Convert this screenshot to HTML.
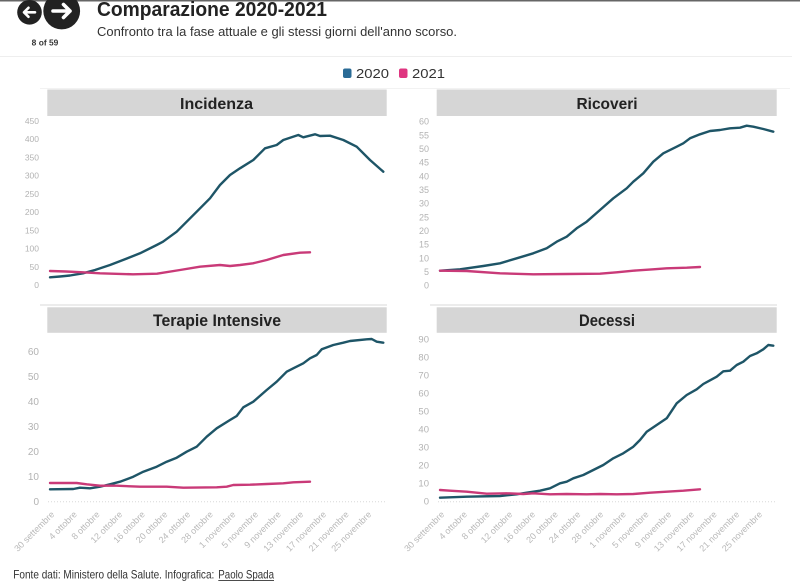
<!DOCTYPE html>
<html><head><meta charset="utf-8"><style>
html,body{margin:0;padding:0;background:#fff;}
svg{display:block;font-family:"Liberation Sans",sans-serif;}
</style></head><body>
<svg width="800" height="588" viewBox="0 0 800 588" xmlns="http://www.w3.org/2000/svg">
<rect width="800" height="588" fill="#fff"/>
<line x1="0" y1="0.7" x2="800" y2="0.7" stroke="#666" stroke-width="1.5"/>
<!-- nav -->
<circle cx="29.5" cy="12.3" r="12.3" fill="#222"/>
<path d="M35 12.3 H24 M28.5 7.8 L24 12.3 L28.5 16.8" stroke="#fff" stroke-width="2.6" fill="none" stroke-linecap="round" stroke-linejoin="round"/>
<circle cx="61.7" cy="11" r="18.4" fill="#222"/>
<path d="M53 11 H70 M63.5 4.5 L70 11 L63.5 17.5" stroke="#fff" stroke-width="3.6" fill="none" stroke-linecap="round" stroke-linejoin="round"/>
<text x="31.7" y="45.7" font-size="8" font-weight="bold" fill="#333" textLength="26.6" lengthAdjust="spacingAndGlyphs">8 of 59</text>
<text x="97" y="16" font-size="20" font-weight="bold" fill="#222" textLength="230" lengthAdjust="spacingAndGlyphs">Comparazione 2020-2021</text>
<text x="97" y="36" font-size="13" fill="#333" textLength="360" lengthAdjust="spacingAndGlyphs">Confronto tra la fase attuale e gli stessi giorni dell'anno scorso.</text>
<line x1="0" y1="56.5" x2="792" y2="56.5" stroke="#eee" stroke-width="1"/>
<line x1="40" y1="88.5" x2="790" y2="88.5" stroke="#f2f2f2" stroke-width="1"/>
<!-- legend -->
<rect x="343" y="68.5" width="8.5" height="9.5" rx="2" fill="#2a6b96"/>
<text x="356" y="77.8" font-size="13" fill="#333" textLength="33" lengthAdjust="spacingAndGlyphs">2020</text>
<rect x="399" y="68.5" width="8.5" height="9.5" rx="2" fill="#df3580"/>
<text x="412" y="77.8" font-size="13" fill="#333" textLength="33" lengthAdjust="spacingAndGlyphs">2021</text>

<!-- panel headers -->
<rect x="47.3" y="89.5" width="339.4" height="26.5" fill="#d6d6d6"/>
<rect x="436.7" y="89.5" width="340" height="26.5" fill="#d6d6d6"/>
<rect x="47.3" y="307.3" width="339.4" height="25.5" fill="#d6d6d6"/>
<rect x="436.7" y="307.3" width="340" height="25.5" fill="#d6d6d6"/>
<g font-weight="bold" fill="#222" text-anchor="middle">
<text x="216.5" y="109" font-size="16" textLength="73" lengthAdjust="spacingAndGlyphs">Incidenza</text>
<text x="607" y="109" font-size="16" textLength="61" lengthAdjust="spacingAndGlyphs">Ricoveri</text>
<text x="217" y="326" font-size="16.5" textLength="128" lengthAdjust="spacingAndGlyphs">Terapie Intensive</text>
<text x="607" y="326" font-size="16.5" textLength="56" lengthAdjust="spacingAndGlyphs">Decessi</text>
</g>

<!-- bottom faint lines for top panels -->
<line x1="40" y1="305" x2="387" y2="305" stroke="#e6e6e6" stroke-width="1.5"/>
<line x1="430" y1="305" x2="777" y2="305" stroke="#e6e6e6" stroke-width="1.5"/>
<!-- dotted axes bottom panels -->
<line x1="48" y1="501.7" x2="387" y2="501.7" stroke="#d8d8d8" stroke-width="1" stroke-dasharray="1,2"/>
<line x1="438" y1="501.7" x2="777" y2="501.7" stroke="#d8d8d8" stroke-width="1" stroke-dasharray="1,2"/>

<!-- y labels -->
<g fill="#b3b3b3" text-anchor="end" font-size="8.5">
<text x="39" y="288">0</text><text x="39" y="269.8">50</text><text x="39" y="251.6">100</text><text x="39" y="233.3">150</text><text x="39" y="215.1">200</text><text x="39" y="196.9">250</text><text x="39" y="178.7">300</text><text x="39" y="160.5">350</text><text x="39" y="142.2">400</text><text x="39" y="124">450</text>
</g>
<g fill="#b3b3b3" text-anchor="end" font-size="9">
<text x="429" y="288.7">0</text><text x="429" y="275">5</text><text x="429" y="261.4">10</text><text x="429" y="247.7">15</text><text x="429" y="234">20</text><text x="429" y="220.4">25</text><text x="429" y="206.7">30</text><text x="429" y="193">35</text><text x="429" y="179.4">40</text><text x="429" y="165.7">45</text><text x="429" y="152">50</text><text x="429" y="138.4">55</text><text x="429" y="124.7">60</text>
</g>
<g fill="#b3b3b3" text-anchor="end" font-size="10">
<text x="39" y="505.2">0</text><text x="39" y="480.2">10</text><text x="39" y="455.2">20</text><text x="39" y="430.2">30</text><text x="39" y="405.2">40</text><text x="39" y="380.2">50</text><text x="39" y="355.2">60</text>
</g>
<g fill="#b3b3b3" text-anchor="end" font-size="9.5">
<text x="429" y="504.7">0</text><text x="429" y="486.7">10</text><text x="429" y="468.6">20</text><text x="429" y="450.6">30</text><text x="429" y="432.6">40</text><text x="429" y="414.5">50</text><text x="429" y="396.5">60</text><text x="429" y="378.5">70</text><text x="429" y="360.4">80</text><text x="429" y="342.4">90</text>
</g>

<!-- x labels left -->
<g fill="#b8b8b8" font-size="9" text-anchor="end">
<text transform="translate(55,515) rotate(-45)">30 settembre</text>
<text transform="translate(77.6,515) rotate(-45)">4 ottobre</text>
<text transform="translate(100.3,515) rotate(-45)">8 ottobre</text>
<text transform="translate(122.9,515) rotate(-45)">12 ottobre</text>
<text transform="translate(145.6,515) rotate(-45)">16 ottobre</text>
<text transform="translate(168.2,515) rotate(-45)">20 ottobre</text>
<text transform="translate(190.9,515) rotate(-45)">24 ottobre</text>
<text transform="translate(213.5,515) rotate(-45)">28 ottobre</text>
<text transform="translate(236.2,515) rotate(-45)">1 novembre</text>
<text transform="translate(258.8,515) rotate(-45)">5 novembre</text>
<text transform="translate(281.5,515) rotate(-45)">9 novembre</text>
<text transform="translate(304.1,515) rotate(-45)">13 novembre</text>
<text transform="translate(326.8,515) rotate(-45)">17 novembre</text>
<text transform="translate(349.4,515) rotate(-45)">21 novembre</text>
<text transform="translate(372.1,515) rotate(-45)">25 novembre</text>
</g>
<g fill="#b8b8b8" font-size="9" text-anchor="end">
<text transform="translate(445,515) rotate(-45)">30 settembre</text>
<text transform="translate(467.7,515) rotate(-45)">4 ottobre</text>
<text transform="translate(490.4,515) rotate(-45)">8 ottobre</text>
<text transform="translate(513.1,515) rotate(-45)">12 ottobre</text>
<text transform="translate(535.8,515) rotate(-45)">16 ottobre</text>
<text transform="translate(558.5,515) rotate(-45)">20 ottobre</text>
<text transform="translate(581.2,515) rotate(-45)">24 ottobre</text>
<text transform="translate(603.9,515) rotate(-45)">28 ottobre</text>
<text transform="translate(626.6,515) rotate(-45)">1 novembre</text>
<text transform="translate(649.3,515) rotate(-45)">5 novembre</text>
<text transform="translate(672,515) rotate(-45)">9 novembre</text>
<text transform="translate(694.7,515) rotate(-45)">13 novembre</text>
<text transform="translate(717.4,515) rotate(-45)">17 novembre</text>
<text transform="translate(740.1,515) rotate(-45)">21 novembre</text>
<text transform="translate(762.8,515) rotate(-45)">25 novembre</text>
</g>

<!-- series -->
<g fill="none" stroke-width="2.4" stroke-linejoin="round" stroke-linecap="round">
<!-- panel 1 -->
<polyline stroke="#1e5567" points="50,277.3 60,276.5 70,275.5 83,273.3 95,270 110,265 123,260 140,253.3 156.7,245 163,241.7 176.7,231.7 186.7,221.7 196.7,211.7 210,198.3 220,185 230,175 240,168.3 253.3,160 265,148.3 276.7,145 283.3,140 298.3,135 303.3,137.3 315,134.3 320,136 330,135.7 343.3,140 356.7,146.7 370,160 383.3,171.7"/>
<polyline stroke="#c93a78" points="50,271 66,271.5 83,272.3 100,273.3 133,274.3 157,273.7 180,270 200,266.7 220,265 230,266 240,265 253,263.3 266.7,260 283.3,255 300,252.7 310,252.3"/>
<!-- panel 2 -->
<polyline stroke="#1e5567" points="440,270.7 460,269.3 483.3,266 500,263.3 516.7,258.3 533.3,253.3 546.7,248.3 556.7,241.7 566.7,236.7 576.7,228.3 586.7,221.7 600,210 613.3,198.3 626.7,188.3 633.3,181.7 643.3,173.3 653.3,161.7 663.3,153.3 676.7,146.7 683.3,143.3 690,138.3 700,134.3 710,131 720,130 730,128.3 740,127.7 746.7,125.7 753.3,126.7 763.3,129 773.3,131.7"/>
<polyline stroke="#c93a78" points="440,270.7 466.7,271 500,273.3 533.3,274.3 566.7,274 600,273.7 616.7,272.3 633.3,270.7 653.3,269.3 666.7,268.3 686.7,267.7 700,267"/>
<!-- panel 3 -->
<polyline stroke="#1e5567" points="50,489.3 73.3,489 80,487.7 90,488.3 100,486.7 110,484.3 120,481.7 126.7,479.3 133.3,476.7 143.3,471.7 156.7,466.7 166.7,461.7 176.7,457.7 186.7,451.7 196.7,446.7 206.7,436.7 216.7,428.3 230,420 236.7,416 243.3,407.3 253.3,401.7 266.7,390 276.7,381.7 286.7,371.7 293.3,368.3 303.3,363.3 310,358.3 316.7,355 321.7,349.3 333.3,345 343.3,342.7 350,341 366.7,339.3 371.7,339 376.7,341.7 383.3,342.7"/>
<polyline stroke="#c93a78" points="50,483 76.7,483 86.7,484.3 100,485.7 116.7,485.7 140,486.7 166.7,486.7 183.3,487.7 216.7,487.3 226.7,486.7 233.3,485 250,484.7 266.7,484 283.3,483.3 293.3,482.3 310,481.7"/>
<!-- panel 4 -->
<polyline stroke="#1e5567" points="440,497.7 466.7,496.7 500,496 516.7,494.3 526.7,492.7 540,490.7 550,488.3 560,483.3 566.7,481.7 573.3,478.3 583.3,475 593.3,470 603.3,465 613.3,458.3 623.3,453.3 633.3,446.7 640,440 646.7,431.7 656.7,425 666.7,418.3 676.7,403.3 686.7,395 696.7,389.3 703.3,384 716.7,376.7 723.3,371.3 730,370.7 736.7,365 743.3,361.7 750,356 756.7,353.3 763.3,349.3 768.3,345 773.3,345.7"/>
<polyline stroke="#c93a78" points="440,490 450,490.7 466.7,491.7 486.7,493.7 506.7,493.3 523.3,494 533.3,493.3 550,494.3 566.7,494 586.7,494.3 600,494 616.7,494.3 633.3,494 650,492.7 666.7,491.7 683.3,490.7 700,489.3"/>
</g>

<!-- footer -->
<text x="13.3" y="578.3" font-size="12" fill="#333" textLength="201" lengthAdjust="spacingAndGlyphs">Fonte dati: Ministero della Salute. Infografica:</text>
<text x="218.3" y="578.3" font-size="12" fill="#333" textLength="55.7" lengthAdjust="spacingAndGlyphs">Paolo Spada</text>
<line x1="218.3" y1="580.6" x2="274" y2="580.6" stroke="#333" stroke-width="0.9"/>
</svg>
</body></html>
